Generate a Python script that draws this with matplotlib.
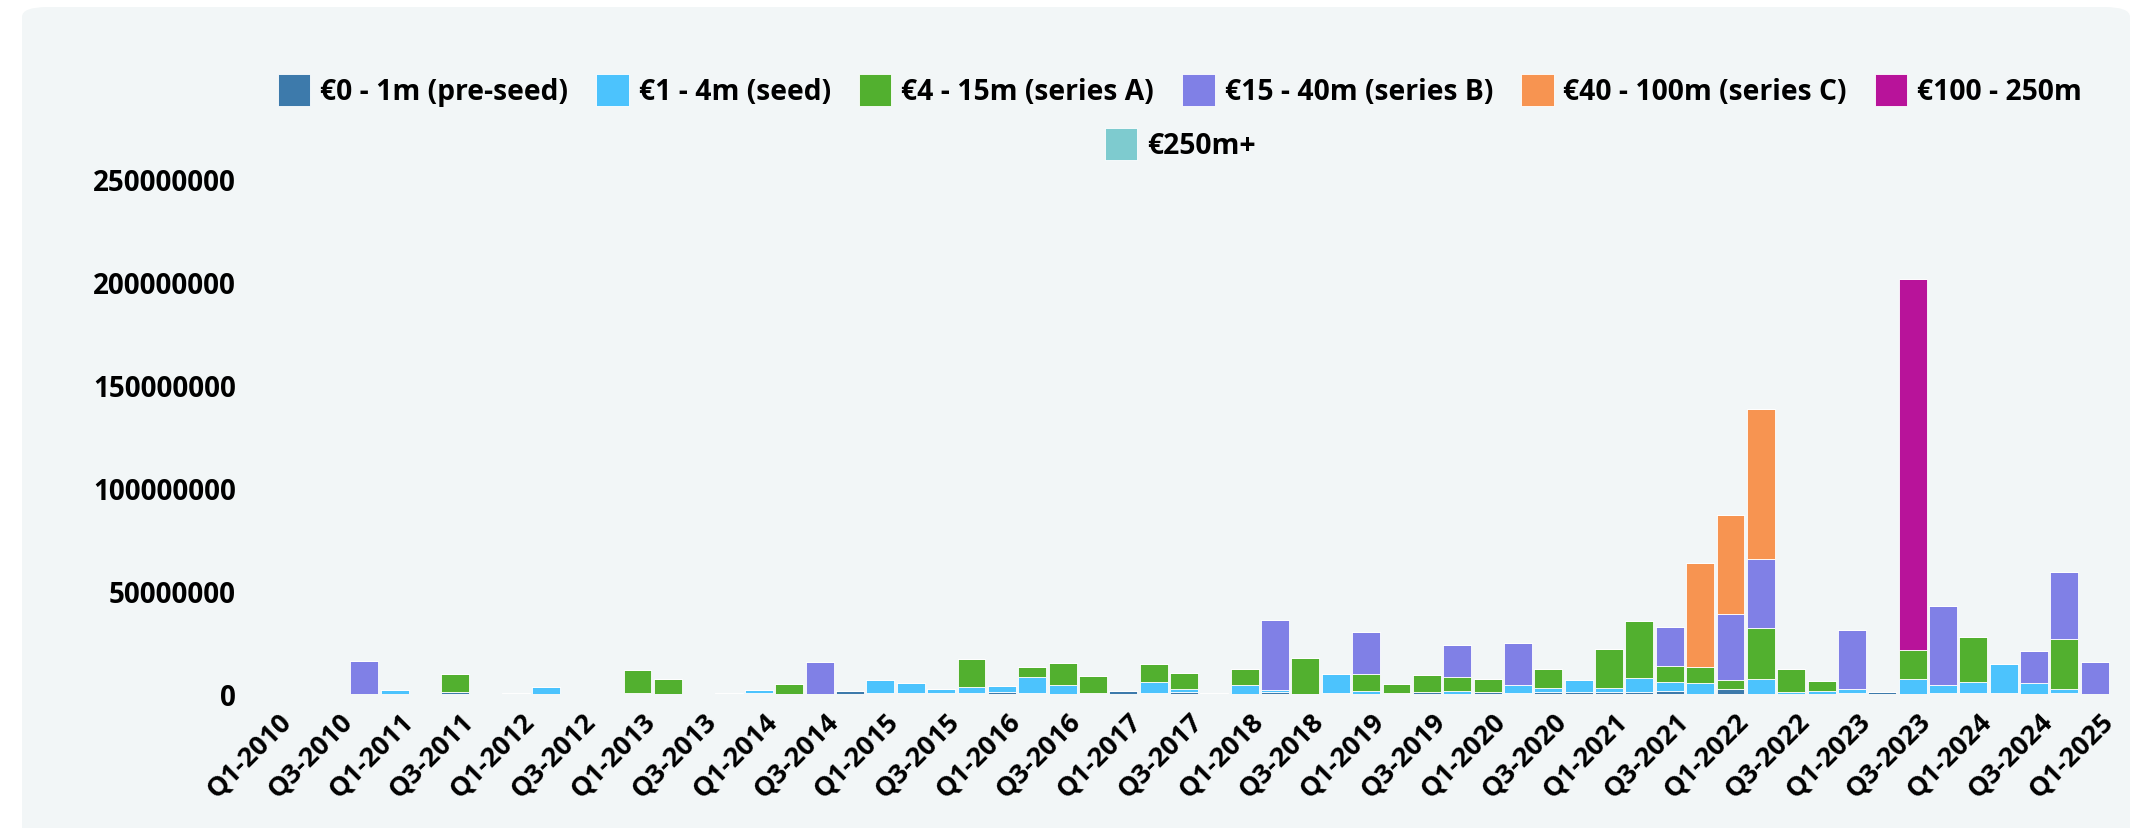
import numpy as np
import matplotlib
matplotlib.use("Agg")
import matplotlib.pyplot as plt
from matplotlib.patches import FancyBboxPatch
from matplotlib.ticker import FuncFormatter
from matplotlib.transforms import ScaledTranslation

# quarters Q1-2010 .. Q1-2025
quarters = [f"Q{q}-{y}" for y in range(2010, 2026) for q in range(1, 5)][:61]

# amounts per quarter, in millions of euro
pre_seed = [0, 0, 0, 0, 0, 0, 1.0, 0, 0.3, 0,
            0, 0, 0.5, 0, 0, 0.3, 0.6, 0, 0, 1.6,
            0.6, 0.6, 0.5, 0.5, 1.1, 0.5, 0, 0.5, 1.5, 0.3,
            1.1, 0.4, 0, 1.1, 0, 0.5, 0, 0.5, 1.0, 0,
            1.0, 0.6, 1.1, 1.1, 1.1, 1.1, 1.6, 0, 2.6, 0,
            0, 0, 0.6, 0.8, 0, 0.6, 0.6, 0.6, 0, 0.6,
            0]
seed = [0, 0, 0, 0, 2.1, 0, 0, 0, 0, 3.4,
        0, 0, 0, 0, 0, 0, 1.5, 0, 0, 0,
        6.0, 4.6, 2.1, 3.1, 2.9, 7.9, 4.4, 0, 0, 5.5,
        1.5, 0, 4.4, 0.8, 0, 9.4, 1.6, 0, 0, 1.6,
        0, 3.9, 1.8, 5.5, 1.8, 6.6, 4.2, 5.5, 0, 7.3,
        1.0, 1.5, 1.8, 0, 7.3, 3.7, 5.2, 14.2, 5.3, 1.8,
        0]
series_a = [0, 0, 0, 0, 0, 0, 8.7, 0, 0, 0,
            0, 0, 11.3, 7.3, 0, 0, 0, 4.7, 0, 0,
            0, 0, 0, 13.4, 0, 4.7, 10.5, 8.2, 0, 8.6,
            7.6, 0, 7.8, 0, 17.6, 0, 8.1, 4.5, 8.4, 6.8,
            6.5, 0, 9.4, 0, 18.8, 27.8, 7.8, 7.8, 4.2, 24.7,
            11.2, 5.0, 0, 0, 14.1, 0, 21.8, 0, 0, 24.4,
            0]
series_b = [0, 0, 0, 16.2, 0, 0, 0, 0, 0, 0,
            0, 0, 0, 0, 0, 0, 0, 0, 15.4, 0,
            0, 0, 0, 0, 0, 0, 0, 0, 0, 0,
            0, 0, 0, 33.8, 0, 0, 20.4, 0, 0, 15.5,
            0, 20.1, 0, 0, 0, 0, 18.8, 0, 32.0, 33.7,
            0, 0, 28.6, 0, 0, 38.2, 0, 0, 15.7, 32.4,
            15.4]
series_c = [0] * 47 + [50.3, 48.2, 72.8] + [0] * 11
late_100_250 = [0] * 54 + [180.1] + [0] * 6
late_250_plus = [0] * 61

labels = ["€0 - 1m (pre-seed)", "€1 - 4m (seed)", "€4 - 15m (series A)",
          "€15 - 40m (series B)", "€40 - 100m (series C)", "€100 - 250m", "€250m+"]
colors = ["#3d7aab", "#4cc3fd", "#52b02f", "#8080e6", "#f79451", "#b8139a", "#7ecbcf"]
series = [pre_seed, seed, series_a, series_b, series_c, late_100_250, late_250_plus]

bg = "#f2f6f7"
plt.rcParams["font.family"] = ["Open Sans", "DejaVu Sans"]
plt.rcParams["font.weight"] = "bold"

fig = plt.figure(figsize=(21.4, 8.29), dpi=100)
fig.patch.set_facecolor("white")
panel = FancyBboxPatch((22 / 2140, -0.1), 2108 / 2140, 1.1 - 8 / 829,
                       boxstyle="round,pad=0,rounding_size=0.012",
                       transform=fig.transFigure, facecolor=bg, edgecolor="none", zorder=-10)
fig.patches.append(panel)

ax = fig.add_axes([258 / 2140, (829 - 695) / 829, (2110 - 258) / 2140, (695 - 180) / 829])
ax.patch.set_alpha(0)

x = np.arange(len(quarters))
bottom = np.zeros(len(quarters))
handles = []
for vals, lab, col in zip(series, labels, colors):
    v = np.array(vals, dtype=float) * 1e6
    h = ax.bar(x, v, 0.92, bottom=bottom, color=col, edgecolor="white",
               linewidth=0.6, label=lab, zorder=2)
    handles.append(h)
    bottom += v

ax.set_xlim(-0.5, len(quarters) - 0.5)
ax.set_ylim(0, 250e6)
ax.set_yticks(np.arange(0, 250e6 + 1, 50e6))
ax.yaxis.set_major_formatter(FuncFormatter(lambda v, p: f"{int(v)}"))
ax.set_xticks(x[::2])
ax.set_xticklabels(quarters[::2], rotation=45, ha="right", rotation_mode="anchor")
ax.tick_params(axis="y", length=0, pad=16, labelsize=20)
ax.tick_params(axis="x", length=0, pad=10, labelsize=19.5)
shift = ScaledTranslation(5 / 100, 0, fig.dpi_scale_trans)
for lbl in ax.get_xticklabels():
    lbl.set_transform(lbl.get_transform() + shift)
for s in ax.spines.values():
    s.set_visible(False)

leg_kw = dict(frameon=False, fontsize=20.3, handlelength=1.15, handleheight=1.4,
              handletextpad=0.35, columnspacing=1.0, loc="center")
fig.legend(handles[:6], labels[:6], ncol=6,
           bbox_to_anchor=(1180 / 2140, 1 - 91 / 829), **leg_kw)
fig.legend(handles[6:], labels[6:], ncol=1,
           bbox_to_anchor=(1180 / 2140, 1 - 145 / 829), **leg_kw)

fig.savefig("out.png", dpi=100, facecolor="white")
